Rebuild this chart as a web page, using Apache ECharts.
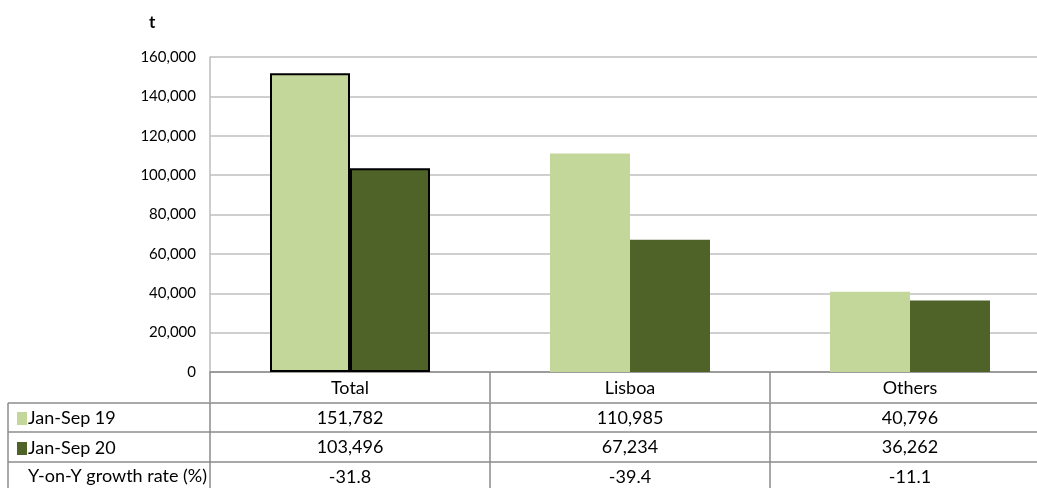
<!DOCTYPE html>
<html>
<head>
<meta charset="utf-8">
<script src="https://cdn.jsdelivr.net/npm/echarts@6/dist/echarts.min.js"></script>
<style>
  html, body { margin: 0; padding: 0; background: #fff; overflow: hidden; width: 1037px; height: 488px; }
  #chart { width: 1050px; height: 488px; }
</style>
</head>
<body>
<div id="chart"></div>
<script>
const categories = ['Total', 'Lisboa', 'Others'];
const seriesNames = ['Jan-Sep 19', 'Jan-Sep 20'];
const janSep19 = [151782, 110985, 40796];
const janSep20 = [103496, 67234, 36262];
const growthRate = ['-31.8', '-39.4', '-11.1'];
const growthLabel = 'Y-on-Y growth rate (%)';
const unitLabel = 't';
const yMin = 0, yMax = 160000, yStep = 20000;

const COL19 = '#C4D79B';
const COL20 = '#4F6228';
const FONT = 'Lato';
const TABLE_LINE = '#8C8C8C';

const fmt = v => Number(v).toLocaleString('en-US');

const chart = echarts.init(document.getElementById('chart'));

function tableAxis(data, offset, margin) {
  return {
    type: 'category',
    gridIndex: 0,
    position: 'bottom',
    offset: offset,
    data: data,
    axisLine: { show: true, lineStyle: { color: TABLE_LINE, width: 1.5 } },
    axisTick: { show: true, interval: 0, alignWithLabel: false, length: 30,
                lineStyle: { color: TABLE_LINE, width: 1.5 } },
    axisLabel: { interval: 0, margin: margin, color: '#000', fontFamily: FONT, fontSize: 18 },
    splitLine: { show: false }
  };
}

const legendText = { fontFamily: FONT, fontSize: 18, color: '#000', padding: [0, 0, 0, -4] };

const option = {
  animation: false,
  backgroundColor: '#fff',
  textStyle: { fontFamily: FONT },
  title: {
    text: unitLabel, left: 144, top: 9,
    textStyle: { fontFamily: FONT, fontSize: 17, fontWeight: 'bold', color: '#000' }
  },
  grid: { left: 210, right: 0, top: 57, bottom: 116, containLabel: false },
  legend: [
    { data: [seriesNames[0]], left: 17, top: 409.5, padding: 0, icon: 'rect',
      itemWidth: 10, itemHeight: 13, textStyle: legendText, selectedMode: false },
    { data: [seriesNames[1]], left: 17, top: 439.5, padding: 0, icon: 'rect',
      itemWidth: 10, itemHeight: 13, textStyle: legendText, selectedMode: false }
  ],
  xAxis: [
    tableAxis(categories, 0, 7),
    tableAxis(janSep19.map(fmt), 31, 6),
    tableAxis(janSep20.map(fmt), 60, 6),
    tableAxis(growthRate, 90, 6)
  ],
  yAxis: {
    type: 'value', min: yMin, max: yMax, interval: yStep,
    axisLine: { show: true, lineStyle: { color: '#BDBDBD', width: 1.5 } },
    axisTick: { show: false },
    axisLabel: { color: '#000', fontFamily: FONT, fontSize: 15, margin: 14, formatter: v => fmt(v) },
    splitLine: { lineStyle: { color: '#BFBFBF', width: 1.5 } }
  },
  series: [
    {
      name: seriesNames[0], type: 'bar', xAxisIndex: 0,
      barGap: '0%', barCategoryGap: '42.86%',
      itemStyle: { color: COL19 },
      data: janSep19.map((v, i) => i === 0 ? { value: v, itemStyle: { borderColor: '#000', borderWidth: 2 } } : v)
    },
    {
      name: seriesNames[1], type: 'bar', xAxisIndex: 0,
      barGap: '0%', barCategoryGap: '42.86%',
      itemStyle: { color: COL20 },
      data: janSep20.map((v, i) => i === 0 ? { value: v, itemStyle: { borderColor: '#000', borderWidth: 2 } } : v)
    }
  ],
  graphic: [
    { type: 'line', shape: { x1: 8, y1: 403, x2: 210, y2: 403 }, style: { stroke: TABLE_LINE, lineWidth: 1.5 } },
    { type: 'line', shape: { x1: 8, y1: 432, x2: 210, y2: 432 }, style: { stroke: TABLE_LINE, lineWidth: 1.5 } },
    { type: 'line', shape: { x1: 8, y1: 462, x2: 210, y2: 462 }, style: { stroke: TABLE_LINE, lineWidth: 1.5 } },
    { type: 'line', shape: { x1: 8, y1: 403, x2: 8, y2: 488 }, style: { stroke: TABLE_LINE, lineWidth: 1.5 } },
    { type: 'text', left: 28, top: 467,
      style: { text: growthLabel, fill: '#000', font: '18px ' + FONT } }
  ]
};

chart.setOption(option);
</script>
</body>
</html>
